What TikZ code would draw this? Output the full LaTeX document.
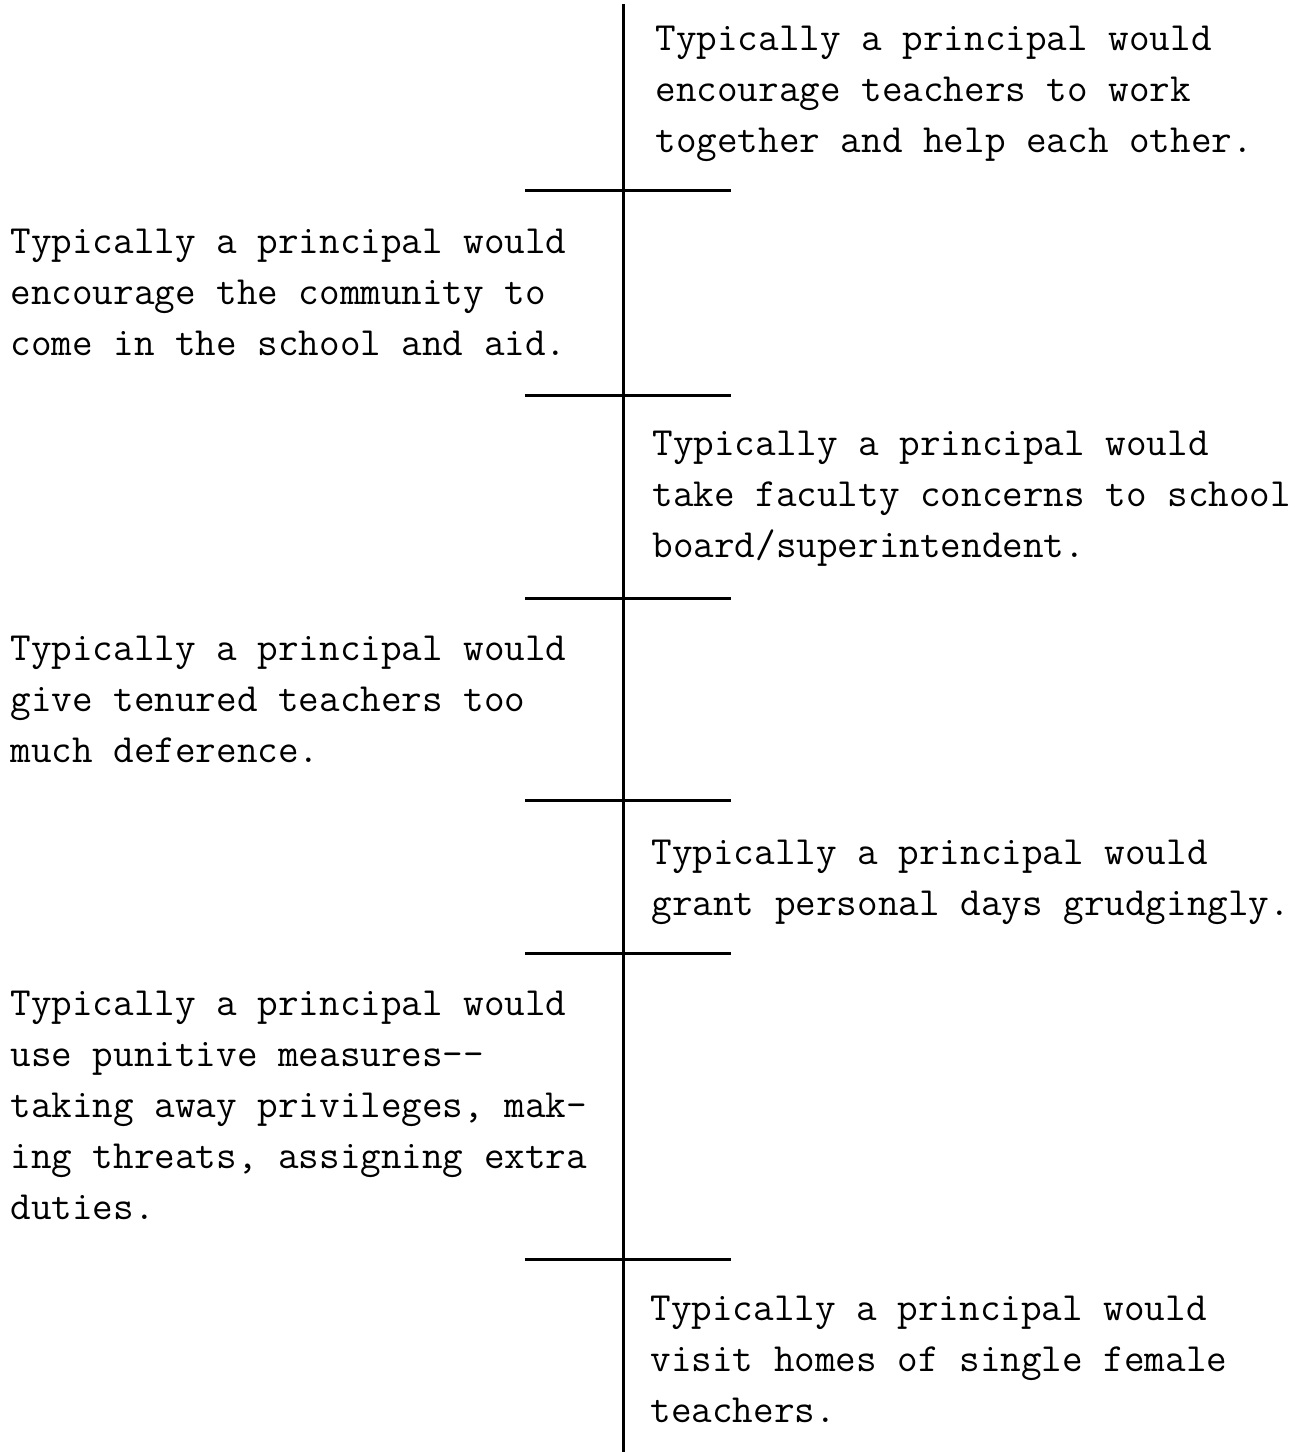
\documentclass[tikz,border=0pt]{standalone}
\usepackage{fontspec}
\begin{document}
\begin{tikzpicture}[x=1pt,y=1pt,
  item/.style={anchor=base west, inner sep=0pt, align=left,
    font=\ttfamily\fontsize{20pt}{25.5pt}\selectfont},
  rule/.style={line width=1.5pt, black}]
\useasboundingbox (0,0) rectangle (654,-726);
% central axis
\coordinate (top) at (311.5,-2);
\coordinate (bot) at (311.5,-726);
\draw[rule] (top) -- (bot);
% tick marks separating the statements
\foreach \n/\y in {1/95,2/197.5,3/299,4/400,5/476.5,6/629.5}{
  \coordinate (t\n) at (311.5,-\y);
  \draw[rule] (t\n) ++(-49,0) -- ++(103,0);
}
% statements, alternating sides of the axis (anchored at the last line's baseline)
\node[item] (s1) at (327.5,-76) {Typically a principal would\\encourage teachers to work\\together and help each other.};
\node[item] (s2) at (5,-177.5) {Typically a principal would\\encourage the community to\\come in the school and aid.};
\node[item] (s3) at (326,-278.5) {Typically a principal would\\take faculty concerns to school\\board/superintendent.};
\node[item] (s4) at (5,-381) {Typically a principal would\\give tenured teachers too\\much deference.};
\node[item] (s5) at (325.5,-457.5) {Typically a principal would\\grant personal days grudgingly.};
\node[item] (s6) at (5,-609.5) {Typically a principal would\\use punitive measures-{}-\\taking away privileges, mak-\\ing threats, assigning extra\\duties.};
\node[item] (s7) at (325,-711) {Typically a principal would\\visit homes of single female\\teachers.};
\end{tikzpicture}
\end{document}
